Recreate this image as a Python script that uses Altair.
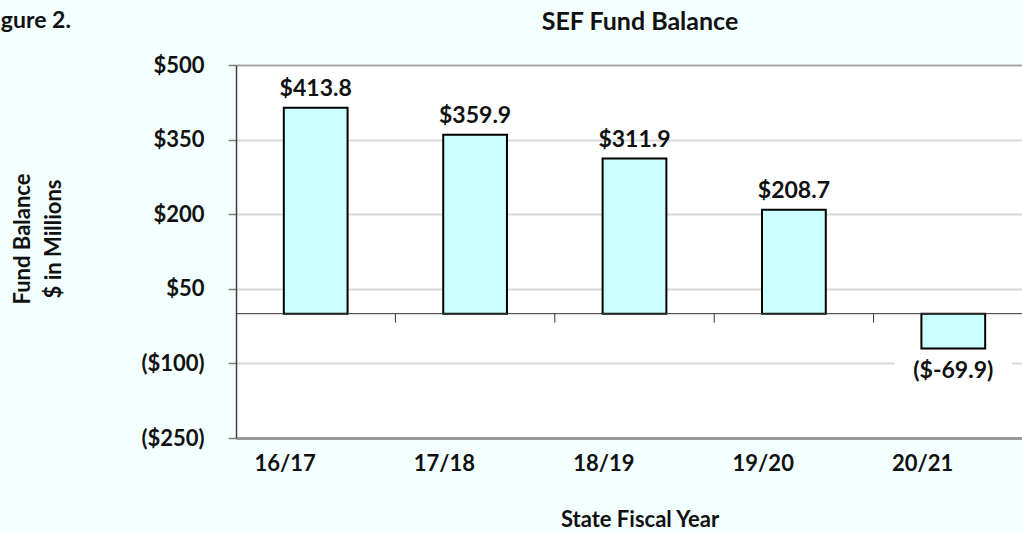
import altair as alt
import pandas as pd

years = ["16/17", "17/18", "18/19", "19/20", "20/21"]
balances = [413.8, 359.9, 311.9, 208.7, -69.9]
y_ticks = [-250, -100, 50, 200, 350, 500]

df = pd.DataFrame({"year": years, "balance": balances})
one = pd.DataFrame({"a": [0]})

FONT = "Lato"
TXT = "#111111"

xscale = alt.Scale(domain=years, range=[0, 797], paddingInner=0.6, paddingOuter=0.3)
yscale = alt.Scale(domain=[-250, 500], nice=False)

x_enc = alt.X(
    "year:N", scale=xscale, sort=years,
    axis=alt.Axis(title=None, labelAngle=0, ticks=False, labelPadding=25,
                  labelFontSize=22, labelFont=FONT, labelFontWeight="bold",
                  labelColor=TXT, domainColor="#999999", domainWidth=3, grid=False),
)
y_axis = alt.Axis(
    values=y_ticks, title=None,
    labelExpr="datum.value < 0 ? '($' + abs(datum.value) + ')' : '$' + datum.value",
    labelFontSize=22, labelFont=FONT, labelFontWeight="bold", labelColor=TXT,
    labelPadding=24, tickSize=8, tickColor="#808080", tickWidth=1.5,
    domainColor="#404040", domainWidth=1.5, grid=True,
    gridColor={"condition": {"test": "datum.value == 500", "value": "#a6a6a6"}, "value": "#d9d9d9"},
    gridWidth=2,
)

base = alt.Chart(df)

knock = base.transform_filter("datum.balance < 0").mark_bar(color="white", width=117).encode(
    x=alt.X("year:N"), y=alt.datum(-93), y2=alt.datum(-107)
)

bars = base.mark_bar(fill="#CCFFFF", stroke="#000000", strokeWidth=2).encode(
    x=x_enc, y=alt.Y("balance:Q", scale=yscale, axis=y_axis)
)

zero = alt.Chart(one).mark_rule(color="#333333", strokeWidth=1).encode(y=alt.datum(0))
zticks = base.mark_rule(color="#333333", strokeWidth=1, xOffset=79.7).encode(
    x=alt.X("year:N"), y=alt.datum(0), y2=alt.datum(-18)
)

lab_pos = base.transform_filter("datum.balance >= 0").transform_calculate(
    lab="'$' + format(datum.balance, '.1f')"
).mark_text(font=FONT, fontSize=23, fontWeight="bold", color=TXT, baseline="alphabetic", dy=-12).encode(
    x=alt.X("year:N"), y=alt.Y("balance:Q"), text="lab:N"
)
lab_neg = base.transform_filter("datum.balance < 0").transform_calculate(
    lab="'($-' + format(abs(datum.balance), '.1f') + ')'"
).mark_text(font=FONT, fontSize=23, fontWeight="bold", color=TXT, baseline="top", dy=12).encode(
    x=alt.X("year:N"), y=alt.Y("balance:Q"), text="lab:N"
)

def label(txt, x, y, size=22, angle=0, align="center"):
    return alt.Chart(one).mark_text(
        font=FONT, fontSize=size, fontWeight="bold", color=TXT,
        baseline="alphabetic", align=align, angle=angle
    ).encode(x=alt.value(x), y=alt.value(y), text=alt.value(txt))

title = label("SEF Fund Balance", 404, -35, size=25)
xtitle = label("State Fiscal Year", 404, 462, size=22)
yt1 = label("Fund Balance", -206, 174, size=22, angle=270)
yt2 = label("$ in Millions", -175, 174, size=22, angle=270)
fig = label("Figure 2.", -254, -37, size=23, align="left")

chart = alt.layer(knock, bars, zero, zticks, lab_pos, lab_neg, title, xtitle, yt1, yt2, fig).properties(
    width=786, height=373,
    autosize=alt.AutoSizeParams(type="none"),
    padding={"left": 236, "top": 65, "right": 0, "bottom": 95},
    background="#F4FFFF",
).configure_view(fill="white", stroke="transparent")

chart.save("out.html", embed_options={"renderer": "svg", "actions": False})
